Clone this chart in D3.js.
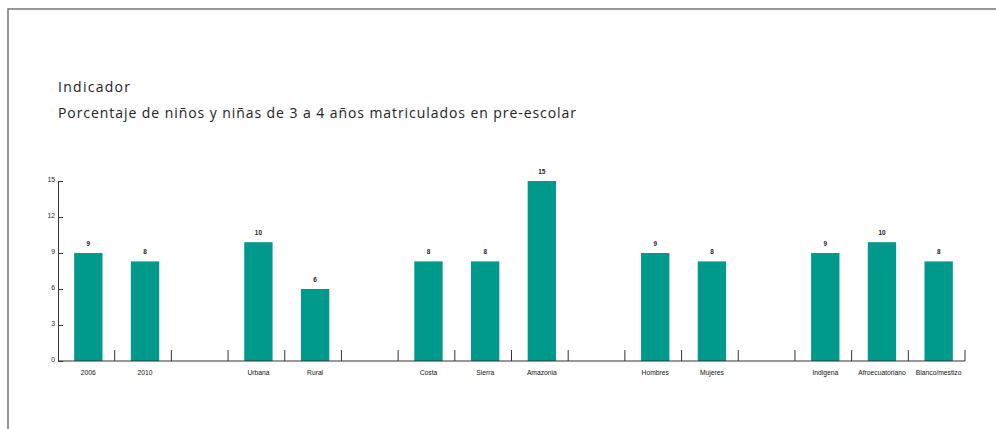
<!DOCTYPE html>
<html>
<head>
<meta charset="utf-8">
<script src="https://cdn.jsdelivr.net/npm/d3@7"></script>
<style>
  body { margin: 0; background: #fff; }
  svg { display: block; }
  .small { font-family: "Liberation Sans", Arial, sans-serif; }
</style>
</head>
<body>
<div id="chart"></div>
<script>
// data
const groups = [
  ["2006", "2010"],
  ["Urbana", "Rural"],
  ["Costa", "Sierra", "Amazonia"],
  ["Hombres", "Mujeres"],
  ["Indigena", "Afroecuatoriano", "Blanco/mestizo"]
];
const categories = groups.flat();
const values = [9, 8.3, 9.9, 6, 8.3, 8.3, 15, 9, 8.3, 9, 9.9, 8.3];
const valueLabels = ["9", "8", "10", "6", "8", "8", "15", "9", "8", "9", "10", "8"];
const yTicks = [0, 3, 6, 9, 12, 15];

const width = 996, height = 429;
const teal = "#009a8c";

// slots: categories with an empty slot between groups
const slots = [];
groups.forEach((g, i) => {
  g.forEach(c => slots.push(c));
  if (i < groups.length - 1) slots.push("gap" + i);
});

const data = categories.map((c, i) => ({ cat: c, value: values[i], label: valueLabels[i] }));

// squeeze glyphs a bit, the original uses a condensed face
const condense = (sel, k) => sel.each(function () {
  const w = this.getComputedTextLength();
  d3.select(this).attr("textLength", w * k).attr("lengthAdjust", "spacingAndGlyphs");
});

const svg = d3.select("#chart")
  .append("svg")
  .attr("width", width)
  .attr("height", height);

// frame
svg.append("path")
  .attr("d", `M8,${height} V9 H${width}`)
  .attr("fill", "none")
  .attr("stroke", "#777")
  .attr("stroke-width", 1.5);

// titles
svg.append("text")
  .attr("x", 58).attr("y", 92)
  .attr("font-family", "'Open Sans', 'Noto Sans', sans-serif")
  .attr("font-size", 14)
  .attr("fill", "#222")
  .attr("textLength", 72)
  .attr("lengthAdjust", "spacing")
  .text("Indicador");

svg.append("text")
  .attr("x", 58).attr("y", 118)
  .attr("font-family", "'Open Sans', 'Noto Sans', sans-serif")
  .attr("font-size", 14)
  .attr("fill", "#222")
  .attr("textLength", 518)
  .attr("lengthAdjust", "spacing")
  .text("Porcentaje de niños y niñas de 3 a 4 años matriculados en pre-escolar");

const x = d3.scaleBand()
  .domain(slots)
  .range([58, 965])
  .paddingInner(0.5)
  .paddingOuter(0.25);

const y = d3.scaleLinear()
  .domain([0, 15])
  .range([361, 181]);

const barShift = 2;

// bars
svg.append("g")
  .selectAll("rect")
  .data(data)
  .join("rect")
  .attr("x", d => x(d.cat) + barShift)
  .attr("y", d => y(d.value))
  .attr("width", x.bandwidth())
  .attr("height", d => y(0) - y(d.value))
  .attr("fill", teal);

// value labels
svg.append("g")
  .attr("class", "small")
  .selectAll("text")
  .data(data)
  .join("text")
  .attr("x", d => x(d.cat) + barShift + x.bandwidth() / 2)
  .attr("y", d => y(d.value) - 7)
  .attr("text-anchor", "middle")
  .attr("font-size", 7.5)
  .attr("font-weight", 600)
  .attr("fill", "#222")
  .text(d => d.label)
  .call(condense, 0.85);

// y axis
const yAxis = svg.append("g")
  .attr("transform", "translate(58,0)")
  .call(d3.axisLeft(y).tickValues(yTicks).tickSize(-5).tickPadding(3).tickSizeOuter(0));
yAxis.select(".domain").attr("stroke", "#333");
yAxis.selectAll(".tick line").attr("stroke", "#333");
yAxis.selectAll(".tick text")
  .attr("class", "small")
  .attr("font-size", 8)
  .attr("fill", "#222")
  .attr("dy", "0.05em")
  .call(condense, 0.85);

// x axis baseline
svg.append("line")
  .attr("x1", 58).attr("x2", 965)
  .attr("y1", y(0)).attr("y2", y(0))
  .attr("stroke", "#333");

// separator ticks at the right end of each slot
svg.append("g")
  .selectAll("line")
  .data(slots)
  .join("line")
  .attr("x1", d => x(d) - x.step() * 0.25 + x.step())
  .attr("x2", d => x(d) - x.step() * 0.25 + x.step())
  .attr("y1", y(0))
  .attr("y2", y(0) - 11)
  .attr("stroke", "#333");

// category labels
svg.append("g")
  .attr("class", "small")
  .selectAll("text")
  .data(categories)
  .join("text")
  .attr("x", d => x(d) + barShift + x.bandwidth() / 2)
  .attr("y", 375)
  .attr("text-anchor", "middle")
  .attr("font-size", 8)
  .attr("fill", "#111")
  .text(d => d)
  .call(condense, 0.84);
</script>
</body>
</html>
